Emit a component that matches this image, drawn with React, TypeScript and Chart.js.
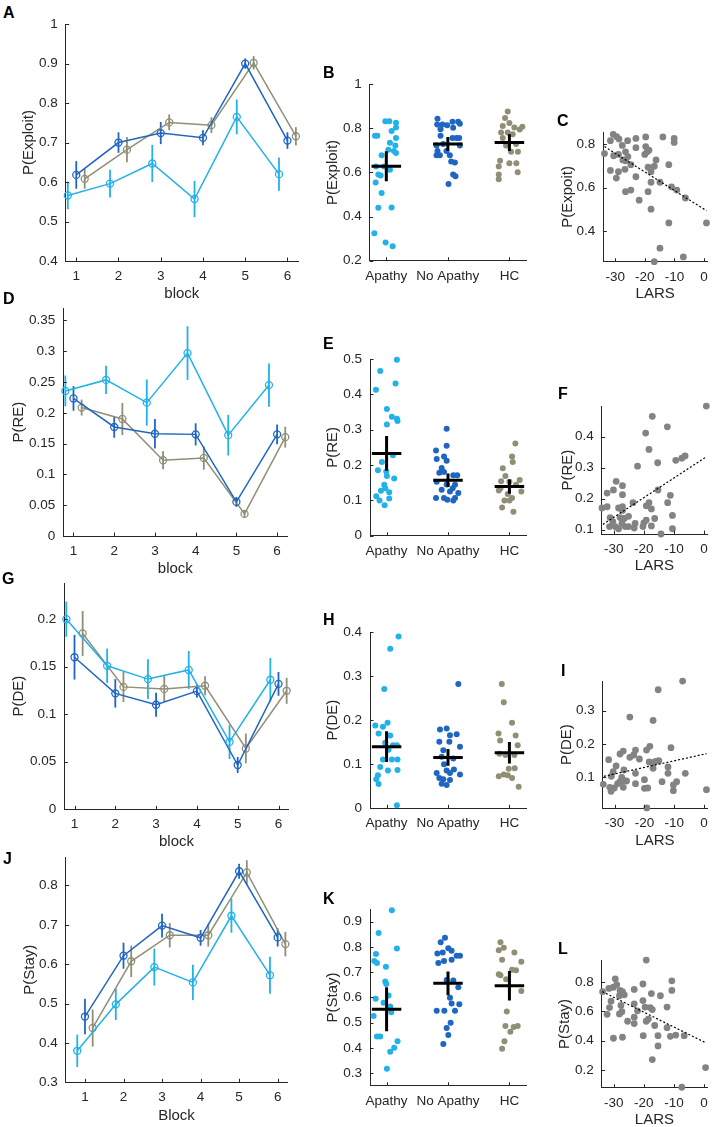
import React, { useEffect, useRef } from "react";
import { Chart, registerables } from "chart.js";

Chart.register(...registerables);

const FONT = '"Liberation Sans", Arial, Helvetica, sans-serif';
const AXIS = "#262626";
const COL_AP = "#22b1e9";
const COL_NA = "#1f66c2";
const COL_HC = "#918e76";
const COL_SC = "#838383";
const TICK_SIZE = 13.5;
const TITLE_SIZE = 15;
const DODGE = 0.2;
const CROSS_HALF = 0.24;

// ---------- shared categories / ticks ----------
const BLOCKS = [1, 2, 3, 4, 5, 6];
const GROUPS = ["Apathy", "No Apathy", "HC"];
const LARS_TICKS = [-30, -20, -10, 0];

// ---------- A: P(Exploit) by block ----------
const exploitApathy = [0.566, 0.596, 0.647, 0.557, 0.765, 0.62];
const exploitApathyErr = [0.035, 0.035, 0.047, 0.046, 0.044, 0.042];
const exploitNoApathy = [0.618, 0.7, 0.724, 0.712, 0.9, 0.705];
const exploitNoApathyErr = [0.035, 0.026, 0.028, 0.019, 0.013, 0.021];
const exploitHC = [0.608, 0.682, 0.751, 0.744, 0.902, 0.716];
const exploitHCErr = [0.025, 0.032, 0.02, 0.02, 0.017, 0.023];
const exploitTicks = [0.4, 0.5, 0.6, 0.7, 0.8, 0.9, 1];

// ---------- D: P(RE) by block ----------
const reApathy = [0.2355, 0.2534, 0.2165, 0.297, 0.1637, 0.245];
const reApathyErr = [0.025, 0.023, 0.0375, 0.0435, 0.033, 0.035];
const reNoApathy = [0.2233, 0.177, 0.166, 0.165, 0.0554, 0.165];
const reNoApathyErr = [0.02, 0.0175, 0.024, 0.018, 0.008, 0.016];
const reHC = [0.2085, 0.19, 0.123, 0.1267, 0.0359, 0.1605];
const reHCErr = [0.013, 0.026, 0.0145, 0.019, 0.006, 0.017];
const reTicks = [0, 0.05, 0.1, 0.15, 0.2, 0.25, 0.3, 0.35];

// ---------- G: P(DE) by block ----------
const deApathy = [0.2, 0.151, 0.137, 0.1466, 0.0709, 0.1363];
const deApathyErr = [0.0185, 0.018, 0.021, 0.02, 0.018, 0.023];
const deNoApathy = [0.16, 0.122, 0.11, 0.1243, 0.0466, 0.132];
const deNoApathyErr = [0.0235, 0.015, 0.0127, 0.007, 0.0084, 0.0125];
const deHC = [0.185, 0.1288, 0.1267, 0.13, 0.064, 0.1247];
const deHCErr = [0.0236, 0.016, 0.014, 0.01, 0.0156, 0.0137];
const deTicks = [0, 0.05, 0.1, 0.15, 0.2];

// ---------- J: P(Stay) by block ----------
const stayApathy = [0.38, 0.498, 0.5926, 0.5537, 0.723, 0.572];
const stayApathyErr = [0.041, 0.04, 0.047, 0.045, 0.043, 0.047];
const stayNoApathy = [0.467, 0.6215, 0.698, 0.667, 0.836, 0.668];
const stayNoApathyErr = [0.045, 0.033, 0.03, 0.02, 0.019, 0.023];
const stayHC = [0.438, 0.6074, 0.6735, 0.6735, 0.833, 0.651];
const stayHCErr = [0.047, 0.04, 0.031, 0.029, 0.031, 0.031];
const stayTicks = [0.3, 0.4, 0.5, 0.6, 0.7, 0.8];

// ---------- B: individual P(Exploit) (value, horizontal jitter in category units) ----------
const bApVal = [0.832, 0.832, 0.825, 0.803, 0.788, 0.766, 0.766, 0.756, 0.734, 0.722, 0.697, 0.688, 0.703, 0.678, 0.627, 0.627, 0.612, 0.59, 0.586, 0.554, 0.507, 0.44, 0.441, 0.324, 0.283, 0.266];
const bApJit = [-0.016, 0.049, 0.157, 0.157, 0.086, -0.184, -0.146, 0.157, 0.059, 0.146, 0.124, 0.157, 0.032, -0.076, -0.168, -0.038, 0.059, -0.13, -0.092, -0.173, -0.076, -0.13, 0.086, -0.195, -0.011, 0.103];
const bNaVal = [0.843, 0.817, 0.817, 0.814, 0.829, 0.829, 0.82, 0.802, 0.795, 0.766, 0.756, 0.756, 0.756, 0.722, 0.729, 0.722, 0.697, 0.697, 0.678, 0.678, 0.678, 0.649, 0.645, 0.59, 0.583, 0.547];
const bNaJit = [-0.168, -0.173, -0.086, -0.011, 0.076, 0.168, 0.195, 0.086, -0.119, -0.119, 0.076, 0.141, 0.184, -0.184, -0.076, 0.195, -0.168, -0.022, -0.184, -0.13, 0.032, 0.054, 0.114, 0.086, 0.124, 0.011];
const bHcVal = [0.876, 0.846, 0.824, 0.81, 0.803, 0.781, 0.781, 0.773, 0.756, 0.722, 0.729, 0.693, 0.653, 0.627, 0.642, 0.601, 0.59, 0.569, 0.807, 0.794, 0.693, 0.642];
const bHcJit = [-0.027, -0.07, 0, -0.108, 0.081, -0.135, -0.027, 0.054, -0.108, -0.054, 0.108, 0.027, -0.151, -0.173, 0, 0.135, -0.173, -0.173, 0.211, 0.167, 0.139, 0.113];
const bMeans = [0.628, 0.729, 0.735];
const bErrs = [0.068, 0.031, 0.038];
const bTicks = [0.2, 0.4, 0.6, 0.8, 1];

// ---------- E: individual P(RE) ----------
const eApVal = [0.498, 0.466, 0.431, 0.413, 0.359, 0.337, 0.331, 0.325, 0.315, 0.228, 0.209, 0.185, 0.182, 0.169, 0.162, 0.144, 0.134, 0.127, 0.123, 0.112, 0.1, 0.105, 0.086];
const eApJit = [0.168, -0.103, 0.146, -0.173, 0.005, 0.086, 0.168, 0.178, 0.005, 0.103, -0.076, -0.141, -0.005, 0.005, 0.124, -0.038, -0.022, -0.092, 0.043, -0.168, -0.114, 0.043, -0.032];
const eNaVal = [0.303, 0.255, 0.241, 0.224, 0.217, 0.212, 0.192, 0.178, 0.18, 0.171, 0.171, 0.153, 0.145, 0.144, 0.134, 0.13, 0.125, 0.121, 0.107, 0.107, 0.107, 0.102, 0.1];
const eNaJit = [-0.022, -0.022, -0.195, -0.065, -0.184, -0.022, -0.103, -0.141, -0.065, 0.086, 0.151, -0.184, -0.022, 0.114, 0.076, -0.103, 0.032, 0.168, -0.195, -0.065, 0.114, -0.011, 0.086];
const eHcVal = [0.261, 0.224, 0.209, 0.191, 0.169, 0.154, 0.153, 0.134, 0.128, 0.144, 0.118, 0.107, 0.1, 0.1, 0.08, 0.068, 0.158, 0.125];
const eHcJit = [0.097, 0.043, 0.054, -0.108, -0.065, -0.135, 0, -0.146, -0.173, 0.108, -0.027, 0.043, -0.081, 0, -0.119, 0.065, 0.167, 0.194];
const eMeans = [0.233, 0.157, 0.139];
const eErrs = [0.049, 0.019, 0.02];
const eTicks = [0, 0.1, 0.2, 0.3, 0.4, 0.5];

// ---------- H: individual P(DE) ----------
const hApVal = [0.39, 0.362, 0.271, 0.188, 0.185, 0.194, 0.17, 0.165, 0.149, 0.143, 0.143, 0.133, 0.111, 0.111, 0.111, 0.094, 0.086, 0.087, 0.075, 0.066, 0.055, 0.007];
const hApJit = [0.195, 0.059, -0.038, -0.184, -0.059, 0.016, -0.13, 0.059, -0.022, 0.103, 0.168, 0.032, -0.059, 0.086, 0.178, -0.103, 0.022, 0.178, -0.141, -0.168, -0.13, 0.168];
const hNaVal = [0.282, 0.179, 0.181, 0.166, 0.168, 0.151, 0.151, 0.14, 0.132, 0.117, 0.113, 0.1, 0.08, 0.086, 0.088, 0.08, 0.077, 0.069, 0.066, 0.064, 0.056, 0.053];
const hNaJit = [0.168, -0.13, -0.022, 0.032, 0.141, -0.141, 0.022, 0.195, -0.076, -0.103, 0.086, -0.065, -0.184, -0.022, 0.097, 0.032, 0.195, -0.141, -0.076, 0.032, -0.103, -0.022];
const hHcVal = [0.282, 0.241, 0.194, 0.17, 0.154, 0.143, 0.124, 0.121, 0.121, 0.09, 0.077, 0.075, 0.073, 0.069, 0.049, 0.165, 0.091];
const hHcJit = [-0.124, -0.092, 0.043, -0.178, -0.151, 0.135, -0.162, -0.065, 0.081, -0.011, -0.092, -0.027, -0.173, 0.043, 0.151, 0.102, 0.086];
const hMeans = [0.14, 0.1155, 0.126];
const hErrs = [0.035, 0.019, 0.0245];
const hTicks = [0, 0.1, 0.2, 0.3, 0.4];

// ---------- K: individual P(Stay) ----------
const kApVal = [0.945, 0.855, 0.794, 0.772, 0.744, 0.736, 0.721, 0.663, 0.653, 0.608, 0.595, 0.579, 0.564, 0.541, 0.526, 0.445, 0.445, 0.426, 0.4, 0.385, 0.317];
const kApJit = [0.086, -0.13, 0.168, -0.173, -0.2, -0.157, -0.011, -0.022, -0.005, 0.032, -0.178, -0.049, 0.059, 0.076, -0.211, -0.157, -0.103, 0.178, 0.124, 0.059, 0.005];
const kNaVal = [0.836, 0.819, 0.795, 0.774, 0.778, 0.785, 0.765, 0.765, 0.749, 0.744, 0.736, 0.669, 0.667, 0.64, 0.599, 0.576, 0.573, 0.547, 0.547, 0.547, 0.5, 0.479, 0.451, 0.415];
const kNaJit = [-0.049, -0.119, 0.005, -0.173, -0.086, 0.059, 0.141, 0.195, 0.059, -0.065, -0.157, -0.022, 0.086, 0.168, 0.032, 0.059, 0.184, -0.184, -0.059, 0.114, 0.043, -0.022, 0.005, -0.076];
const kHcVal = [0.819, 0.797, 0.787, 0.778, 0.749, 0.692, 0.688, 0.672, 0.71, 0.708, 0.544, 0.487, 0.483, 0.487, 0.464, 0.426, 0.396, 0.741, 0.625];
const kHcJit = [-0.146, -0.092, -0.173, 0.081, -0.119, -0.173, -0.146, -0.054, 0.043, 0.108, -0.043, -0.065, 0.07, 0.135, 0.016, -0.081, -0.119, 0.194, 0.194];
const kMeans = [0.553, 0.656, 0.646];
const kErrs = [0.087, 0.047, 0.0585];
const kTicks = [0.3, 0.4, 0.5, 0.6, 0.7, 0.8, 0.9];

// ---------- C: LARS vs P(Exploit) ----------
const cLars = [-33.6, -30.65, -29.5, -31.6, -28.7, -25.8, -23, -19.7, -13.9, -10.1, -10.1, -27.6, -30.5, -28.9, -26.5, -25.7, -23, -19.7, -18.6, -20, -19.2, -27.4, -26.5, -24.7, -31.6, -28.9, -26.7, -23, -29.6, -18.9, -17.9, -16.8, -16.2, -17.9, -11.9, -14.9, -11, -9.2, -6.3, -26.5, -24.7, -18.9, -21.9, -17.9, -11.9, 0.8, -14.9, -7, -16.8];
const cVal = [0.756, 0.844, 0.833, 0.815, 0.822, 0.815, 0.825, 0.832, 0.832, 0.825, 0.807, 0.793, 0.746, 0.752, 0.764, 0.742, 0.783, 0.788, 0.771, 0.752, 0.764, 0.727, 0.723, 0.705, 0.679, 0.673, 0.684, 0.65, 0.644, 0.694, 0.673, 0.698, 0.727, 0.625, 0.705, 0.625, 0.604, 0.589, 0.553, 0.582, 0.589, 0.582, 0.543, 0.502, 0.439, 0.439, 0.324, 0.284, 0.262];
const cFitX = [-33.6, 0.8];
const cFitY = [0.788, 0.495];
const cTicks = [0.4, 0.6, 0.8];

// ---------- F: LARS vs P(RE) ----------
const fLars = [-33.9, -32.2, -29.2, -30.1, -32.2, -27.1, -27.1, -31.2, -30.3, -31.4, -29.5, -28.4, -27.3, -26.5, -27.9, -27.1, -28.4, -27.1, -25.1, -25.1, -26.2, -23.2, -22.9, -23.6, -22.1, -20, -20.3, -19.2, -19.2, -18.3, -17.5, -19.4, -17.2, -18.3, -17.5, -16.4, -15.4, -15.3, -14.3, -12.2, -12.1, -11.2, -10.5, -10.5, -9.4, -7.4, -6.3, 0.75];
const fVal = [0.17, 0.174, 0.256, 0.228, 0.218, 0.242, 0.213, 0.139, 0.126, 0.11, 0.11, 0.103, 0.12, 0.136, 0.139, 0.174, 0.17, 0.162, 0.143, 0.11, 0.11, 0.105, 0.12, 0.187, 0.305, 0.122, 0.11, 0.131, 0.177, 0.187, 0.167, 0.412, 0.466, 0.359, 0.112, 0.136, 0.316, 0.228, 0.086, 0.432, 0.187, 0.211, 0.146, 0.103, 0.324, 0.331, 0.338, 0.499];
const fFitX = [-33.6, 0.4];
const fFitY = [0.117, 0.333];
const fTicks = [0.1, 0.2, 0.3, 0.4];

// ---------- I: LARS vs P(DE) ----------
const iLars = [-33.8, -32, -31.6, -31.1, -30.5, -31.2, -30.1, -29.5, -29, -28.2, -28.2, -27.1, -27.6, -27.1, -26.9, -26, -26.9, -24.9, -24.9, -23.6, -23, -23, -23, -21.7, -20, -20, -19.3, -18.2, -18.4, -17.1, -17.1, -19.2, -18.9, -17.3, -15.4, -16.2, -15.2, -14.1, -12.1, -12.1, -11.1, -10.3, -10.3, -9.2, -7.2, -6.3, 0.8];
const iVal = [0.079, 0.153, 0.07, 0.103, 0.117, 0.058, 0.068, 0.134, 0.081, 0.087, 0.17, 0.179, 0.1, 0.07, 0.09, 0.089, 0.122, 0.281, 0.16, 0.167, 0.182, 0.112, 0.081, 0.155, 0.093, 0.067, 0.182, 0.193, 0.146, 0.127, 0.271, 0.008, 0.068, 0.144, 0.363, 0.148, 0.15, 0.087, 0.131, 0.112, 0.189, 0.06, 0.077, 0.087, 0.389, 0.112, 0.063];
const iFitX = [-33.6, 0.8];
const iFitY = [0.103, 0.171];
const iTicks = [0.1, 0.2, 0.3];

// ---------- L: LARS vs P(Stay) ----------
const lLars = [-33.7, -31.6, -29.5, -30.1, -29, -27.9, -27.1, -26.5, -30.9, -28.1, -31.4, -32.2, -27.6, -28.1, -27.3, -30.1, -27.1, -25.4, -23.2, -23.2, -23.2, -23.2, -22.1, -20.3, -20.3, -19.2, -19.6, -19.2, -18.5, -20.2, -17.9, -17.5, -17.2, -16.4, -17.2, -15.3, -15.3, -14.5, -12.3, -12.3, -11.2, -10.7, -10.7, -9.4, -7.4, -6.6, 0.5];
const lVal = [0.735, 0.757, 0.822, 0.765, 0.783, 0.743, 0.735, 0.713, 0.67, 0.707, 0.626, 0.58, 0.641, 0.583, 0.598, 0.417, 0.424, 0.533, 0.75, 0.652, 0.561, 0.517, 0.604, 0.787, 0.674, 0.95, 0.63, 0.533, 0.548, 0.435, 0.626, 0.722, 0.613, 0.504, 0.272, 0.435, 0.365, 0.707, 0.63, 0.489, 0.43, 0.809, 0.743, 0.439, 0.083, 0.435, 0.217];
const lFitX = [-33.8, 0.5];
const lFitY = [0.735, 0.387];
const lTicks = [0.2, 0.4, 0.6, 0.8];

// ---------- layout ----------
interface Geo { L: number; T: number; R: number; B: number; yTitleX: number; xTitleY: number; }

function frame(g: Geo) {
  const left = Math.floor(g.yTitleX - TITLE_SIZE / 2 - 1);
  const top = Math.floor(g.T - 10);
  const right = Math.min(715, Math.ceil(g.R + 8));
  const bottom = Math.min(1127, Math.ceil(g.xTitleY + TITLE_SIZE / 2 + 1));
  return {
    left, top, width: right - left, height: bottom - top,
    padTop: g.T - top, padRight: right - g.R,
    yW: g.L - left, xH: bottom - g.B,
    yTitlePad: g.yTitleX - TITLE_SIZE / 2 - left,
    xTitlePad: bottom - g.xTitleY - TITLE_SIZE / 2,
  };
}

const fmtNum = (v: number) => String(Math.round(v * 1000) / 1000);

const PANELS: any[] = [
  { id: "A", kind: "line", geo: { L: 65.7, T: 18.3, R: 298, B: 261, yTitleX: 29, xTitleY: 294 }, xr: [0.75, 6.25], yr: [0.4, 1], yt: exploitTicks, yTitle: "P(Exploit)", xTitle: "block",
    series: [[exploitApathy, exploitApathyErr], [exploitNoApathy, exploitNoApathyErr], [exploitHC, exploitHCErr]] },
  { id: "B", kind: "dots", geo: { L: 369.7, T: 78.3, R: 526, B: 260.7, yTitleX: 333.3, xTitleY: 290 }, yr: [0.2, 1], yt: bTicks, yTitle: "P(Exploit)",
    groups: [[bApVal, bApJit], [bNaVal, bNaJit], [bHcVal, bHcJit]], means: bMeans, errs: bErrs },
  { id: "C", kind: "scatter", geo: { L: 603.3, T: 126, R: 710, B: 261.7, yTitleX: 568, xTitleY: 294 }, yr: [0.262, 0.854], yt: cTicks, yTitle: "P(Expoit)",
    lars: cLars, vals: cVal, fitX: cFitX, fitY: cFitY },
  { id: "D", kind: "line", geo: { L: 63.3, T: 302.4, R: 287.3, B: 536, yTitleX: 19, xTitleY: 569 }, xr: [0.75, 6.25], yr: [0, 0.37], yt: reTicks, yTitle: "P(RE)", xTitle: "block",
    series: [[reApathy, reApathyErr], [reNoApathy, reNoApathyErr], [reHC, reHCErr]] },
  { id: "E", kind: "dots", geo: { L: 370, T: 353.3, R: 526, B: 535.7, yTitleX: 333, xTitleY: 565 }, yr: [0, 0.5], yt: eTicks, yTitle: "P(RE)",
    groups: [[eApVal, eApJit], [eNaVal, eNaJit], [eHcVal, eHcJit]], means: eMeans, errs: eErrs },
  { id: "F", kind: "scatter", geo: { L: 601.7, T: 400.7, R: 709, B: 534, yTitleX: 568, xTitleY: 566 }, yr: [0.086, 0.499], yt: fTicks, yTitle: "P(RE)",
    lars: fLars, vals: fVal, fitX: fFitX, fitY: fFitY },
  { id: "G", kind: "line", geo: { L: 64.3, T: 577.7, R: 288.7, B: 809.3, yTitleX: 19, xTitleY: 842 }, xr: [0.75, 6.25], yr: [0, 0.238], yt: deTicks, yTitle: "P(DE)", xTitle: "block",
    series: [[deApathy, deApathyErr], [deNoApathy, deNoApathyErr], [deHC, deHCErr]] },
  { id: "H", kind: "dots", geo: { L: 370, T: 626, R: 526, B: 808.3, yTitleX: 333, xTitleY: 838 }, yr: [0, 0.4], yt: hTicks, yTitle: "P(DE)",
    groups: [[hApVal, hApJit], [hNaVal, hNaJit], [hHcVal, hHcJit]], means: hMeans, errs: hErrs },
  { id: "I", kind: "scatter", geo: { L: 602.7, T: 675, R: 709, B: 808.3, yTitleX: 567, xTitleY: 841 }, yr: [0.007, 0.389], yt: iTicks, yTitle: "P(DE)",
    lars: iLars, vals: iVal, fitX: iFitX, fitY: iFitY },
  { id: "J", kind: "line", geo: { L: 65.7, T: 851.7, R: 287.3, B: 1082.3, yTitleX: 30, xTitleY: 1116 }, xr: [0.5, 6.25], yr: [0.3, 0.872], yt: stayTicks, yTitle: "P(Stay)", xTitle: "Block",
    series: [[stayApathy, stayApathyErr], [stayNoApathy, stayNoApathyErr], [stayHC, stayHCErr]] },
  { id: "K", kind: "dots", geo: { L: 370, T: 903.7, R: 526, B: 1085.7, yTitleX: 333, xTitleY: 1115 }, yr: [0.25, 0.95], yt: kTicks, yTitle: "P(Stay)",
    groups: [[kApVal, kApJit], [kNaVal, kNaJit], [kHcVal, kHcJit]], means: kMeans, errs: kErrs },
  { id: "L", kind: "scatter", geo: { L: 601.7, T: 954.3, R: 709, B: 1087.7, yTitleX: 565, xTitleY: 1120 }, yr: [0.08, 0.95], yt: lTicks, yTitle: "P(Stay)",
    lars: lLars, vals: lVal, fitX: lFitX, fitY: lFitY },
];

const LETTERS = [
  { t: "A", x: 3, y: 5 }, { t: "B", x: 323, y: 65 }, { t: "C", x: 557, y: 113 },
  { t: "D", x: 3, y: 291 }, { t: "E", x: 323, y: 336 }, { t: "F", x: 558, y: 386 },
  { t: "G", x: 2, y: 571 }, { t: "H", x: 323, y: 612 }, { t: "I", x: 561, y: 663 },
  { t: "J", x: 3, y: 851 }, { t: "K", x: 323, y: 891 }, { t: "L", x: 558, y: 941 },
];

// ---------- plugins ----------
const errorBarPlugin = {
  id: "errorBars",
  beforeDatasetsDraw(chart: any) {
    const { ctx, scales } = chart;
    chart.data.datasets.forEach((ds: any) => {
      if (!ds.errors) return;
      ctx.save();
      ctx.strokeStyle = ds.borderColor;
      ctx.lineWidth = 1.8;
      ds.data.forEach((p: any, j: number) => {
        const x = scales.x.getPixelForValue(p.x);
        ctx.beginPath();
        ctx.moveTo(x, scales.y.getPixelForValue(p.y - ds.errors[j]));
        ctx.lineTo(x, scales.y.getPixelForValue(p.y + ds.errors[j]));
        ctx.stroke();
      });
      ctx.restore();
    });
  },
};

const crossPlugin = {
  id: "crosses",
  afterDatasetsDraw(chart: any, _a: any, opts: any) {
    if (!opts || !opts.means) return;
    const { ctx, scales } = chart;
    ctx.save();
    ctx.strokeStyle = "#000";
    ctx.lineWidth = 3;
    const means = opts.means as number[];
    for (let i = 0; i < means.length; i++) {
      const m = means[i];
      const e = opts.errs[i];
      const cx = i + 1;
      const y = scales.y.getPixelForValue(m);
      const x = scales.x.getPixelForValue(cx);
      ctx.beginPath();
      ctx.moveTo(scales.x.getPixelForValue(cx - opts.half), y);
      ctx.lineTo(scales.x.getPixelForValue(cx + opts.half), y);
      ctx.moveTo(x, scales.y.getPixelForValue(m - e));
      ctx.lineTo(x, scales.y.getPixelForValue(m + e));
      ctx.stroke();
    }
    ctx.restore();
  },
};

const inwardTickPlugin = {
  id: "inwardTicks",
  afterDraw(chart: any) {
    const { ctx, chartArea: a, scales } = chart;
    ctx.save();
    ctx.strokeStyle = AXIS;
    ctx.lineWidth = 1;
    ctx.beginPath();
    scales.x.ticks.forEach((t: any) => {
      const px = Math.round(scales.x.getPixelForValue(t.value)) + 0.5;
      ctx.moveTo(px, a.bottom);
      ctx.lineTo(px, a.bottom - 3.5);
    });
    scales.y.ticks.forEach((t: any) => {
      const py = Math.round(scales.y.getPixelForValue(t.value)) + 0.5;
      ctx.moveTo(a.left, py);
      ctx.lineTo(a.left + 3.5, py);
    });
    ctx.stroke();
    ctx.restore();
  },
};

// ---------- config builder ----------
function axisCommon() {
  return {
    type: "linear",
    grid: { display: false, drawTicks: false },
    border: { display: true, color: AXIS, width: 1 },
  };
}

function buildConfig(p: any) {
  const f = frame(p.geo);
  const datasets: any[] = [];
  const cols = [COL_AP, COL_NA, COL_HC];
  let xr: number[] = [0, 1];
  let xt: number[] = [];
  let xFmt: (v: number, i: number) => string = (v) => fmtNum(v);
  let xTitle = "";
  const pluginOpts: any = { legend: { display: false }, tooltip: { enabled: false } };

  if (p.kind === "line") {
    p.series.forEach((s: number[][], gi: number) => {
      const [vals, errs] = s;
      const off = (gi - 1) * DODGE;
      datasets.push({
        showLine: true,
        data: BLOCKS.map((b, i) => ({ x: b + off, y: vals[i] })),
        errors: errs,
        borderColor: cols[gi],
        backgroundColor: cols[gi],
        borderWidth: 1.5,
        pointRadius: 3.5,
        pointBorderWidth: 1.3,
        pointBorderColor: cols[gi],
        pointBackgroundColor: "rgba(0,0,0,0)",
        clip: false,
      });
    });
    xr = p.xr;
    xt = BLOCKS;
    xTitle = p.xTitle;
  } else if (p.kind === "dots") {
    p.groups.forEach((g: number[][], gi: number) => {
      const [vals, jit] = g;
      datasets.push({
        data: vals.map((v, i) => ({ x: gi + 1 + jit[i], y: v })),
        pointRadius: 3,
        pointBorderWidth: 0,
        pointBackgroundColor: cols[gi],
        pointBorderColor: cols[gi],
        clip: false,
      });
    });
    pluginOpts.crosses = { means: p.means, errs: p.errs, half: CROSS_HALF };
    xr = [0.73, 3.27];
    xt = [1, 2, 3];
    xFmt = (_v, i) => GROUPS[i];
  } else {
    datasets.push({
      showLine: true,
      data: p.fitX.map((x: number, i: number) => ({ x, y: p.fitY[i] })),
      borderColor: "#000",
      borderWidth: 1.2,
      borderDash: [2, 2],
      pointRadius: 0,
      clip: false,
    });
    datasets.push({
      data: p.lars.map((x: number, i: number) => ({ x, y: p.vals[i] })),
      pointRadius: 3.4,
      pointBorderWidth: 0,
      pointBackgroundColor: COL_SC,
      pointBorderColor: COL_SC,
      clip: false,
    });
    xr = [-34, 1];
    xt = LARS_TICKS;
    xTitle = "LARS";
  }

  return {
    type: "scatter",
    data: { datasets },
    options: {
      responsive: false,
      animation: false,
      events: [],
      devicePixelRatio: 1,
      layout: { padding: { left: 0, top: f.padTop, right: f.padRight, bottom: 0 } },
      scales: {
        x: {
          ...axisCommon(),
          position: "bottom",
          min: xr[0],
          max: xr[1],
          afterBuildTicks: (s: any) => { s.ticks = xt.map((v) => ({ value: v })); },
          afterFit: (s: any) => { s.height = f.xH; },
          ticks: { color: AXIS, font: { family: FONT, size: TICK_SIZE }, padding: 7, maxRotation: 0, minRotation: 0, autoSkip: false,
            callback: (v: number, i: number) => xFmt(v, i) },
          title: { display: !!xTitle, text: xTitle, color: AXIS, font: { family: FONT, size: TITLE_SIZE, lineHeight: 1 }, padding: { top: 0, bottom: f.xTitlePad } },
        },
        y: {
          ...axisCommon(),
          position: "left",
          min: p.yr[0],
          max: p.yr[1],
          afterBuildTicks: (s: any) => { s.ticks = p.yt.map((v: number) => ({ value: v })); },
          afterFit: (s: any) => { s.width = f.yW; },
          ticks: { color: AXIS, font: { family: FONT, size: TICK_SIZE }, padding: 8, autoSkip: false, callback: (v: number) => fmtNum(v) },
          title: { display: true, text: p.yTitle, color: AXIS, font: { family: FONT, size: TITLE_SIZE, lineHeight: 1 }, padding: { top: f.yTitlePad, bottom: 0 } },
        },
      },
      plugins: pluginOpts,
    },
    plugins: [errorBarPlugin, crossPlugin, inwardTickPlugin],
  };
}

export default function App() {
  const refs = useRef<(HTMLCanvasElement | null)[]>([]);

  useEffect(() => {
    const charts = PANELS.map((p, i) => new Chart(refs.current[i] as HTMLCanvasElement, buildConfig(p) as any));
    return () => charts.forEach((c) => c.destroy());
  }, []);

  return (
    <div style={{ position: "absolute", left: 0, top: 0, width: 715, height: 1127, overflow: "hidden", background: "#fff" }}>
      {PANELS.map((p, i) => {
        const f = frame(p.geo);
        return (
          <canvas
            key={p.id}
            ref={(el) => { refs.current[i] = el; }}
            width={f.width}
            height={f.height}
            style={{ position: "absolute", left: f.left, top: f.top, width: f.width, height: f.height }}
          />
        );
      })}
      {LETTERS.map((l) => (
        <div
          key={l.t}
          style={{ position: "absolute", left: l.x, top: l.y, fontFamily: FONT, fontWeight: "bold", fontSize: 16, lineHeight: "16px", color: "#000" }}
        >
          {l.t}
        </div>
      ))}
    </div>
  );
}
